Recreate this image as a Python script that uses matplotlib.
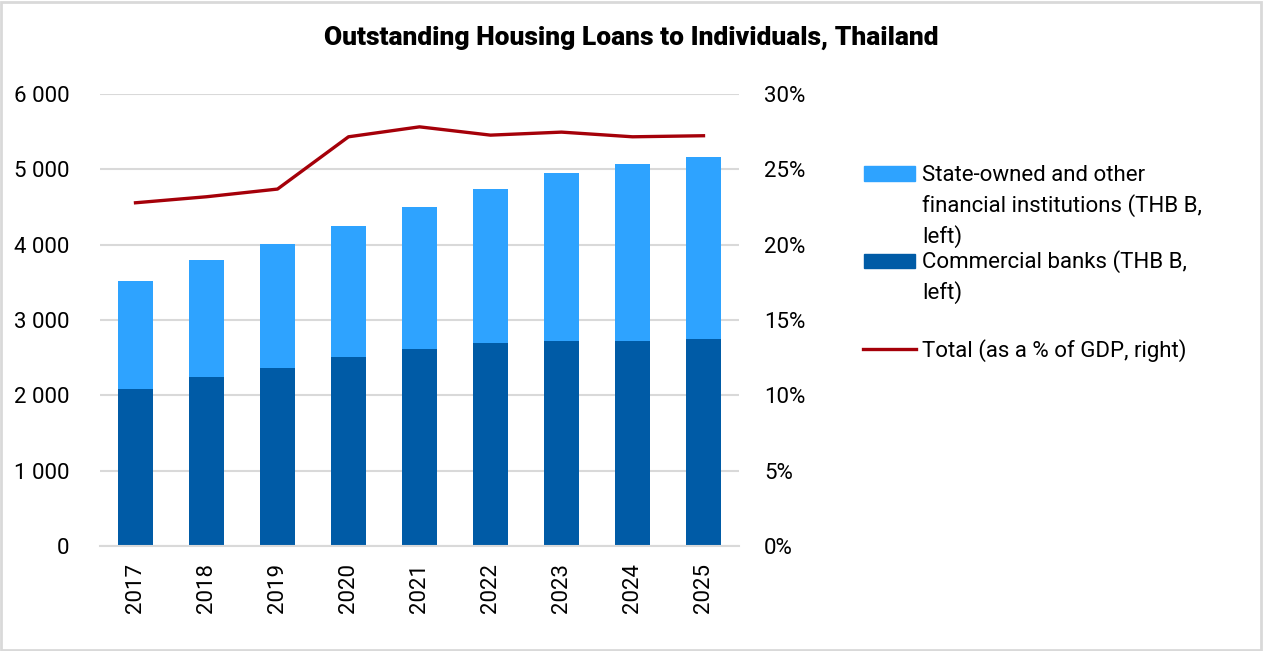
import matplotlib
matplotlib.use("Agg")
import matplotlib.pyplot as plt
from matplotlib.patches import Rectangle
from matplotlib.lines import Line2D
from matplotlib.ticker import FuncFormatter, MultipleLocator

years = ["2017", "2018", "2019", "2020", "2021", "2022", "2023", "2024", "2025"]
commercial = [2081, 2240, 2360, 2506, 2612, 2692, 2726, 2726, 2753]
total_thb = [3515, 3794, 4011, 4250, 4498, 4737, 4949, 5073, 5162]
state_other = [t - c for t, c in zip(total_thb, commercial)]
pct_gdp = [22.78, 23.18, 23.69, 27.16, 27.82, 27.27, 27.47, 27.16, 27.23]

title = "Outstanding Housing Loans to Individuals, Thailand"
leg_state = ["State-owned and other", "financial institutions (THB B,", "left)"]
leg_comm = ["Commercial banks (THB B,", "left)"]
leg_total = ["Total (as a % of GDP, right)"]

LIGHT = "#2EA3FF"
DARK = "#005BA6"
RED = "#A50009"
GRID = "#D9D9D9"
TXT_W = 'normal'

plt.rcParams['font.family'] = ['Roboto', 'DejaVu Sans']

W, H = 1265, 651
fig = plt.figure(figsize=(W / 100, H / 100), dpi=100)

def fx(px):
    return px / W

def fy(py):
    return 1 - py / H

ax = fig.add_axes([fx(100), fy(546), fx(739) - fx(100), fy(94) - fy(546)])
x = list(range(len(years)))
ax.bar(x, commercial, width=0.5, color=DARK, zorder=2)
ax.bar(x, state_other, width=0.5, bottom=commercial, color=LIGHT, zorder=2)
ax.set_xlim(-0.5, len(years) - 0.5)
ax.set_ylim(0, 6000)
ax.yaxis.set_major_locator(MultipleLocator(1000))
ax.yaxis.set_major_formatter(FuncFormatter(lambda v, p: f"{int(v):,}".replace(",", " ")))
ax.grid(axis='y', color=GRID, linewidth=1.5, zorder=0)
ax.set_axisbelow(True)
for s in ["top", "right", "left"]:
    ax.spines[s].set_visible(False)
ax.spines["bottom"].set_color(GRID)
ax.spines["bottom"].set_linewidth(1.5)
ax.set_xticks(x)
ax.set_xticklabels(years, rotation=90, fontsize=16, fontweight=TXT_W)
ax.tick_params(axis='x', length=0, pad=12)
ax.tick_params(axis='y', length=0, pad=22, labelsize=16)
for t in ax.get_yticklabels():
    t.set_fontweight(TXT_W)

ax2 = ax.twinx()
ax2.plot(x, pct_gdp, color=RED, linewidth=2.4, zorder=3)
ax2.set_ylim(0, 30)
ax2.yaxis.set_major_locator(MultipleLocator(5))
ax2.yaxis.set_major_formatter(FuncFormatter(lambda v, p: f"{int(v)}%"))
ax2.tick_params(axis='y', length=0, pad=18, labelsize=16)
for t in ax2.get_yticklabels():
    t.set_fontweight(TXT_W)
for s in ax2.spines.values():
    s.set_visible(False)

fig.text(fx(631), fy(45), title, ha='center', va='baseline', fontsize=19, fontweight='heavy')

# legend drawn by hand so the keys align with the first line of each entry
fig.patches.append(Rectangle((fx(864), fy(181)), fx(51), fy(166) - fy(181),
                             transform=fig.transFigure, color=LIGHT))
fig.patches.append(Rectangle((fx(864), fy(268)), fx(51), fy(254) - fy(268),
                             transform=fig.transFigure, color=DARK))
fig.lines.append(Line2D([fx(863), fx(916)], [fy(349), fy(349)],
                        transform=fig.transFigure, color=RED, linewidth=2.4))
for lines, base in [(leg_state, 181), (leg_comm, 268), (leg_total, 357)]:
    for i, s in enumerate(lines):
        fig.text(fx(922), fy(base + 31 * i), s, ha='left', va='baseline',
                 fontsize=16, fontweight=TXT_W)

fig.patches.append(Rectangle((0.001, 0.002), 0.996, 0.995, transform=fig.transFigure,
                             fill=False, edgecolor=GRID, linewidth=2))

fig.savefig("out.png", dpi=100)
